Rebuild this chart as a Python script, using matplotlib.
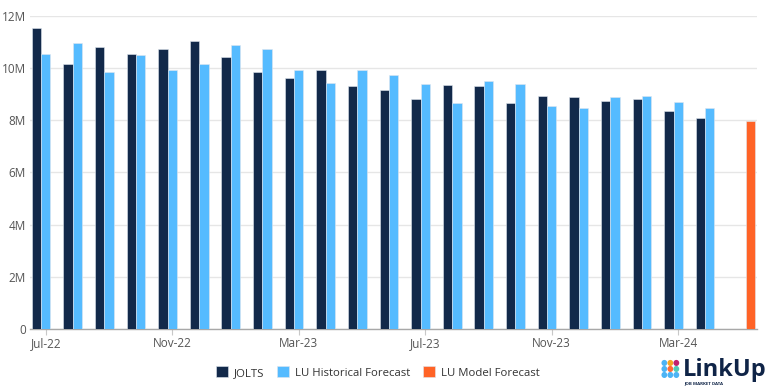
import numpy as np
import matplotlib
matplotlib.use("Agg")
import matplotlib.pyplot as plt
from matplotlib.ticker import FuncFormatter

plt.rcParams.update({"font.family": ["Open Sans", "DejaVu Sans"]})

months = ["Jul-22", "Aug-22", "Sep-22", "Oct-22", "Nov-22", "Dec-22",
          "Jan-23", "Feb-23", "Mar-23", "Apr-23", "May-23", "Jun-23",
          "Jul-23", "Aug-23", "Sep-23", "Oct-23", "Nov-23", "Dec-23",
          "Jan-24", "Feb-24", "Mar-24", "Apr-24", "May-24"]
jolts = [11.54, 10.13, 10.79, 10.54, 10.71, 11.01, 10.42, 9.85, 9.63, 9.91,
         9.31, 9.15, 8.81, 9.34, 9.30, 8.67, 8.94, 8.90, 8.75, 8.81, 8.36,
         8.08, np.nan]
lu_hist = [10.54, 10.94, 9.83, 10.49, 9.91, 10.14, 10.88, 10.71, 9.92, 9.41,
           9.92, 9.73, 9.38, 8.65, 9.49, 9.39, 8.55, 8.47, 8.90, 8.94, 8.69,
           8.47, np.nan]
lu_model = [np.nan] * 22 + [7.97]
shown_ticks = ["Jul-22", "Nov-22", "Mar-23", "Jul-23", "Nov-23", "Mar-24"]

NAVY = "#12294a"
SKY = "#55bbff"
ORANGE = "#ff6326"

fig = plt.figure(figsize=(7.68, 3.88), dpi=100)
ax = fig.add_axes([0.039, 0.151, 0.947, 0.809])

x = np.arange(len(months))
w = 0.295
series = [(jolts, NAVY, "JOLTS"), (lu_hist, SKY, "LU Historical Forecast"),
          (lu_model, ORANGE, "LU Model Forecast")]
for k, (vals, col, lab) in enumerate(series):
    ax.bar(x + (k - 1) * w, np.array(vals) * 1e6, width=w, color=col,
           edgecolor="#dfe6ee", linewidth=0.4, label=lab, zorder=3)

ax.set_xlim(-0.5, len(months) - 0.5)
ax.set_ylim(0, 12e6)
ax.set_yticks(np.arange(0, 12.1e6, 2e6))
ax.yaxis.set_major_formatter(FuncFormatter(
    lambda v, p: f"{int(round(v / 1e6))}M" if v else "0"))
ax.grid(axis="y", color="#e6e6e6", lw=1, zorder=0)

tick_pos = [months.index(m) for m in shown_ticks]
ax.set_xticks(tick_pos)
ax.set_xticklabels(shown_ticks)
ax.tick_params(axis="x", length=4, color="#c8c8c8", labelsize=8.5,
               labelcolor="#555555", pad=1.5)
ax.tick_params(axis="y", length=0, labelsize=8.5, labelcolor="#555555", pad=3)

for s in ("top", "right", "left"):
    ax.spines[s].set_visible(False)
ax.spines["bottom"].set_color("#a8a8a8")
ax.spines["bottom"].set_linewidth(1)

fig.legend(loc="center", bbox_to_anchor=(0.492, 0.04), ncol=3, frameon=False,
           fontsize=8.2, handlelength=1.1, handleheight=1.1, handletextpad=0.5,
           columnspacing=1.1, labelcolor="#333333")

# LinkUp logo
dot_cols = [["#4cb4f5", "#f5a524", "#c2206e"],
            ["#4cb4f5", "#ff6b35", "#52c9b8"],
            ["#4cb4f5", "#4cb4f5", "#4cb4f5"]]
for r in range(3):
    for c in range(3):
        fig.text((663.5 + c * 6.3) / 768, 1 - (363.5 + r * 6.2) / 388, "\u25cf",
                 color=dot_cols[r][c], fontsize=5.5, ha="center", va="center")
fig.text(683 / 768, 1 - 370 / 388, "LinkUp", color="#0f2447", fontsize=17,
         fontweight="bold", ha="left", va="center")
fig.text(684 / 768, 1 - 383.5 / 388, "JOB MARKET DATA", color="#0f2447",
         fontsize=3.2, fontweight="bold", ha="left", va="center")

fig.savefig("out.png", dpi=100, facecolor="white")
